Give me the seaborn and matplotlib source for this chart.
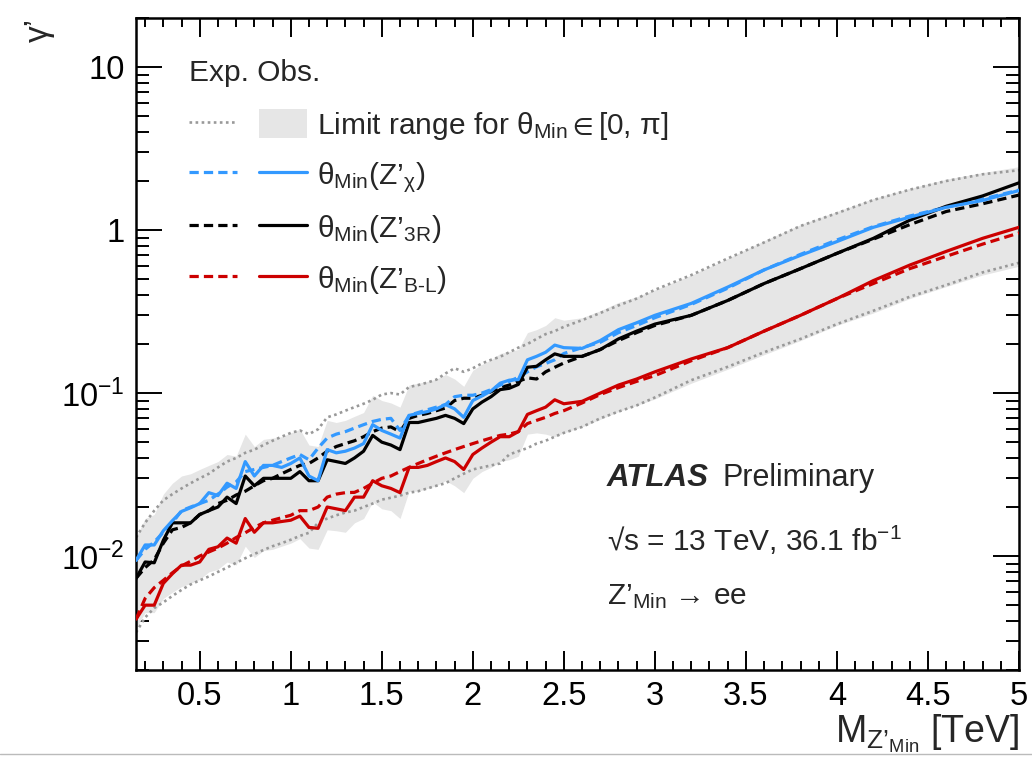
import pandas as pd
import seaborn as sns
import matplotlib.pyplot as plt
from matplotlib.lines import Line2D
from matplotlib.patches import Patch
from matplotlib.legend_handler import HandlerTuple
from matplotlib.ticker import MultipleLocator, FixedLocator, LogLocator, NullFormatter, FuncFormatter

# Z'_Min mass points [TeV]
mass = [0.15, 0.20, 0.25, 0.30, 0.35, 0.40, 0.45, 0.50, 0.55, 0.60,
        0.65, 0.70, 0.75, 0.80, 0.85, 0.90, 0.95, 1.00, 1.05, 1.10,
        1.15, 1.20, 1.25, 1.30, 1.35, 1.40, 1.45, 1.50, 1.55, 1.60,
        1.65, 1.70, 1.75, 1.80, 1.85, 1.90, 1.95, 2.00, 2.05, 2.10,
        2.15, 2.20, 2.25, 2.30, 2.35, 2.40, 2.45, 2.50, 2.60, 2.70,
        2.80, 2.90, 3.00, 3.20, 3.40, 3.60, 3.80, 4.00, 4.20, 4.40,
        4.60, 4.80, 5.00]

# observed limits on gamma'
obs_chi = [0.0094, 0.0117, 0.0117, 0.0143, 0.0165, 0.0188, 0.0198, 0.0210, 0.0245, 0.0235,
           0.0280, 0.0260, 0.0380, 0.0310, 0.0360, 0.0360, 0.0350, 0.0370, 0.0400, 0.0310,
           0.0290, 0.0450, 0.0430, 0.0440, 0.0460, 0.0490, 0.0640, 0.0590, 0.0560, 0.0530,
           0.0730, 0.0750, 0.0770, 0.0800, 0.0850, 0.0800, 0.0710, 0.0900, 0.0960, 0.1030,
           0.115, 0.120, 0.121, 0.160, 0.168, 0.178, 0.197, 0.190, 0.188, 0.210,
           0.245, 0.270, 0.300, 0.355, 0.447, 0.570, 0.700, 0.850, 1.040, 1.200,
           1.38, 1.52, 1.75]
obs_3r = [0.0073, 0.0092, 0.0091, 0.0125, 0.0160, 0.0160, 0.0160, 0.0180, 0.0190, 0.0200,
          0.0230, 0.0210, 0.0310, 0.0270, 0.0300, 0.0300, 0.0300, 0.0300, 0.0330, 0.0290,
          0.0290, 0.0390, 0.0380, 0.0370, 0.0400, 0.0440, 0.0550, 0.0500, 0.0480, 0.0450,
          0.0660, 0.0660, 0.0680, 0.0700, 0.0730, 0.0700, 0.0650, 0.0800, 0.0880, 0.0950,
          0.105, 0.107, 0.113, 0.144, 0.146, 0.160, 0.174, 0.168, 0.168, 0.185,
          0.215, 0.240, 0.265, 0.300, 0.370, 0.470, 0.580, 0.720, 0.890, 1.150,
          1.40, 1.62, 1.95]
obs_bl = [0.0041, 0.0050, 0.0050, 0.0068, 0.0078, 0.0088, 0.0088, 0.0092, 0.0110, 0.0114,
          0.0129, 0.0120, 0.0170, 0.0140, 0.0160, 0.0160, 0.0163, 0.0166, 0.0176, 0.0150,
          0.0148, 0.0200, 0.0195, 0.0190, 0.0230, 0.0230, 0.0290, 0.0270, 0.0260, 0.0245,
          0.0350, 0.0350, 0.0360, 0.0380, 0.0400, 0.0380, 0.0340, 0.0420, 0.0460, 0.0500,
          0.054, 0.054, 0.058, 0.074, 0.078, 0.082, 0.091, 0.086, 0.089, 0.100,
          0.112, 0.122, 0.135, 0.162, 0.190, 0.240, 0.300, 0.380, 0.490, 0.610,
          0.74, 0.89, 1.04]

# expected limits
exp_chi = [0.0094, 0.0110, 0.0122, 0.0140, 0.0160, 0.0190, 0.0200, 0.0210, 0.0220, 0.0240,
           0.0265, 0.0285, 0.0330, 0.0340, 0.0350, 0.0360, 0.0380, 0.0400, 0.0420, 0.0390,
           0.0460, 0.0530, 0.0560, 0.0580, 0.0610, 0.0640, 0.0670, 0.0690, 0.0700, 0.0590,
           0.0730, 0.0760, 0.0790, 0.0820, 0.0850, 0.0950, 0.0970, 0.0970, 0.1000, 0.1050,
           0.112, 0.118, 0.125, 0.135, 0.145, 0.152, 0.160, 0.175, 0.190, 0.205,
           0.235, 0.260, 0.290, 0.350, 0.440, 0.570, 0.710, 0.870, 1.050, 1.220,
           1.38, 1.55, 1.76]
exp_3r = [0.0073, 0.0085, 0.0095, 0.0120, 0.0145, 0.0150, 0.0160, 0.0180, 0.0190, 0.0210,
          0.0220, 0.0237, 0.0250, 0.0270, 0.0290, 0.0300, 0.0320, 0.0340, 0.0360, 0.0370,
          0.0400, 0.0440, 0.0470, 0.0490, 0.0510, 0.0540, 0.0580, 0.0610, 0.0620, 0.0580,
          0.0700, 0.0730, 0.0750, 0.0780, 0.0810, 0.0900, 0.0930, 0.0930, 0.0970, 0.1020,
          0.108, 0.112, 0.118, 0.124, 0.122, 0.135, 0.144, 0.153, 0.168, 0.185,
          0.210, 0.235, 0.260, 0.300, 0.370, 0.470, 0.580, 0.720, 0.880, 1.080,
          1.30, 1.45, 1.64]
exp_bl = [0.0041, 0.0055, 0.0064, 0.0071, 0.0079, 0.0087, 0.0093, 0.0100, 0.0106, 0.0112,
          0.0120, 0.0130, 0.0139, 0.0150, 0.0160, 0.0166, 0.0172, 0.0178, 0.0190, 0.0190,
          0.0200, 0.0230, 0.0240, 0.0245, 0.0246, 0.0260, 0.0280, 0.0300, 0.0310, 0.0330,
          0.0350, 0.0370, 0.0390, 0.0410, 0.0430, 0.0450, 0.0470, 0.0490, 0.0510, 0.0530,
          0.055, 0.056, 0.058, 0.065, 0.068, 0.071, 0.075, 0.078, 0.087, 0.098,
          0.108, 0.118, 0.128, 0.158, 0.190, 0.240, 0.300, 0.380, 0.470, 0.580,
          0.69, 0.82, 0.96]

# expected range over theta_Min (dotted) and observed range (grey band)
exp_hi = [0.013, 0.016, 0.019, 0.022, 0.024, 0.026, 0.028, 0.030, 0.032, 0.035,
          0.038, 0.040, 0.043, 0.045, 0.048, 0.051, 0.054, 0.057, 0.059, 0.056,
          0.060, 0.071, 0.074, 0.078, 0.082, 0.086, 0.091, 0.098, 0.100, 0.098,
          0.109, 0.112, 0.116, 0.121, 0.132, 0.142, 0.135, 0.142, 0.152, 0.160,
          0.167, 0.178, 0.190, 0.200, 0.215, 0.230, 0.240, 0.255, 0.280, 0.310,
          0.345, 0.380, 0.430, 0.530, 0.670, 0.840, 1.060, 1.270, 1.530, 1.770,
          2.00, 2.20, 2.33]
exp_lo = [0.0034, 0.0042, 0.0048, 0.0052, 0.0057, 0.0062, 0.0067, 0.0071, 0.0075, 0.0080,
          0.0085, 0.0091, 0.0097, 0.0103, 0.0109, 0.0115, 0.0120, 0.0126, 0.0133, 0.0139,
          0.0160, 0.0170, 0.0178, 0.0185, 0.0190, 0.0200, 0.0210, 0.0222, 0.0228, 0.0235,
          0.0245, 0.0250, 0.0260, 0.0270, 0.0280, 0.0300, 0.0320, 0.0340, 0.0350, 0.0360,
          0.037, 0.042, 0.044, 0.046, 0.049, 0.051, 0.054, 0.057, 0.062, 0.070,
          0.077, 0.084, 0.094, 0.120, 0.145, 0.178, 0.215, 0.265, 0.320, 0.390,
          0.46, 0.55, 0.63]
band_hi = [0.013, 0.017, 0.018, 0.024, 0.028, 0.031, 0.032, 0.034, 0.036, 0.038,
           0.042, 0.041, 0.056, 0.047, 0.052, 0.053, 0.054, 0.057, 0.060, 0.048,
           0.047, 0.068, 0.066, 0.068, 0.072, 0.076, 0.097, 0.090, 0.087, 0.082,
           0.112, 0.115, 0.118, 0.122, 0.130, 0.122, 0.110, 0.138, 0.150, 0.160,
           0.175, 0.180, 0.185, 0.235, 0.245, 0.260, 0.290, 0.280, 0.290, 0.320,
           0.360, 0.390, 0.430, 0.530, 0.670, 0.860, 1.080, 1.300, 1.560, 1.800,
           2.05, 2.25, 2.45]
band_lo = [0.0036, 0.0045, 0.0045, 0.0055, 0.0060, 0.0065, 0.0068, 0.0072, 0.0080, 0.0083,
           0.0092, 0.0088, 0.0115, 0.0098, 0.0108, 0.0110, 0.0115, 0.0120, 0.0128, 0.0112,
           0.0110, 0.0145, 0.0143, 0.0140, 0.0160, 0.0170, 0.0215, 0.0195, 0.0190, 0.0170,
           0.0250, 0.0250, 0.0260, 0.0270, 0.0290, 0.0270, 0.0245, 0.0300, 0.0330, 0.0350,
           0.038, 0.039, 0.041, 0.056, 0.057, 0.056, 0.054, 0.057, 0.062, 0.069,
           0.077, 0.084, 0.092, 0.115, 0.140, 0.172, 0.210, 0.260, 0.310, 0.380,
           0.45, 0.53, 0.60]

BLUE = '#3399ff'
RED = '#cc0000'
BAND = '#e6e6e6'
DOTS = '#999999'
DASH = (0, (2.9, 1.6))
DOTTED = (0, (1.0, 1.3))


def main():
    df = pd.DataFrame({'mass': mass, 'obs_chi': obs_chi, 'obs_3r': obs_3r, 'obs_bl': obs_bl,
                       'exp_chi': exp_chi, 'exp_3r': exp_3r, 'exp_bl': exp_bl,
                       'exp_hi': exp_hi, 'exp_lo': exp_lo, 'band_hi': band_hi, 'band_lo': band_lo})

    sns.set_theme(style='ticks')
    plt.rcParams['font.family'] = ['Liberation Sans', 'DejaVu Sans']
    plt.rcParams['mathtext.fontset'] = 'custom'
    plt.rcParams['mathtext.rm'] = 'Liberation Sans'
    plt.rcParams['mathtext.it'] = 'Liberation Sans:italic'
    plt.rcParams['mathtext.bf'] = 'Liberation Sans:bold'
    plt.rcParams['mathtext.default'] = 'regular'

    fig = plt.figure(figsize=(10.32, 7.57), dpi=100)
    ax = fig.add_axes([0.1318, 0.1149, 0.8556, 0.8613])

    ax.fill_between(df['mass'], df['band_lo'], df['band_hi'], color=BAND, lw=0, zorder=1)
    for col in ['exp_hi', 'exp_lo']:
        sns.lineplot(data=df, x='mass', y=col, ax=ax, color=DOTS, lw=1.9,
                     linestyle=DOTTED, estimator=None, zorder=2)
    for exp_col, obs_col, c in [('exp_bl', 'obs_bl', RED), ('exp_3r', 'obs_3r', 'black'),
                                ('exp_chi', 'obs_chi', BLUE)]:
        sns.lineplot(data=df, x='mass', y=exp_col, ax=ax, color=c, lw=2.3,
                     linestyle=DASH, estimator=None, zorder=3)
        sns.lineplot(data=df, x='mass', y=obs_col, ax=ax, color=c, lw=2.3,
                     estimator=None, zorder=4)

    ax.set_yscale('log')
    ax.set_xlim(0.15, 5.0)
    ax.set_ylim(0.002, 20)

    ax.xaxis.set_major_locator(MultipleLocator(0.5))
    ax.xaxis.set_minor_locator(MultipleLocator(0.1))
    ax.xaxis.set_major_formatter(FuncFormatter(lambda v, p: f'{v:g}'))
    ax.yaxis.set_major_locator(FixedLocator([0.01, 0.1, 1, 10]))
    ax.yaxis.set_major_formatter(FuncFormatter(
        lambda v, p: {0.01: r'$10^{-2}$', 0.1: r'$10^{-1}$', 1: '1', 10: '10'}.get(round(v, 3), '')))
    ax.yaxis.set_minor_locator(LogLocator(base=10, subs=[2, 3, 4, 5, 6, 7, 8, 9], numticks=20))
    ax.yaxis.set_minor_formatter(NullFormatter())

    for s in ax.spines.values():
        s.set_linewidth(1.8)
        s.set_color('black')
    ax.tick_params(which='both', direction='in', top=True, right=True, width=1.4,
                   colors='black', labelsize=23.5)
    ax.tick_params(axis='x', which='major', length=13.5, pad=8)
    ax.tick_params(axis='x', which='minor', length=6.8)
    ax.tick_params(axis='y', which='major', length=18.5, pad=8)
    ax.tick_params(axis='y', which='minor', length=9.4)

    ax.set_xlabel(r'$M_{Z’_{Min}}$ [TeV]', loc='right', fontsize=27, labelpad=0)
    ax.set_ylabel('γ’', loc='top', fontsize=24, labelpad=5)

    # legend: expected (left) and observed (right) samples per row
    handles = [
        (Line2D([], [], color=DOTS, lw=1.9, linestyle=DOTTED), Patch(facecolor=BAND, edgecolor='none')),
        (Line2D([], [], color=BLUE, lw=2.3, linestyle=DASH), Line2D([], [], color=BLUE, lw=2.3)),
        (Line2D([], [], color='black', lw=2.3, linestyle=DASH), Line2D([], [], color='black', lw=2.3)),
        (Line2D([], [], color=RED, lw=2.3, linestyle=DASH), Line2D([], [], color=RED, lw=2.3)),
    ]
    labels = [r'Limit range for $θ_{Min}\in$[0, π]',
              r'$θ_{Min}(Z’_{χ})$',
              r'$θ_{Min}(Z’_{3R})$',
              r'$θ_{Min}(Z’_{B\text{-}L})$']
    leg = ax.legend(handles, labels, handler_map={tuple: HandlerTuple(ndivide=None, pad=0.72)},
                    loc='upper left', bbox_to_anchor=(0.0605, 0.937), frameon=False,
                    fontsize=21.5, handlelength=3.93, handleheight=1.1, handletextpad=0.33,
                    labelspacing=0.6, borderpad=0, borderaxespad=0,
                    title='Exp. Obs.', title_fontsize=21.5, alignment='left')
    leg._legend_box.sep = 16

    ax.text(0.533, 0.294, 'ATLAS', transform=ax.transAxes, fontsize=22.5, fontweight='bold',
            fontstyle='italic', va='center', ha='left')
    ax.text(0.664, 0.294, 'Preliminary', transform=ax.transAxes, fontsize=22, va='center', ha='left')
    ax.text(0.533, 0.199, r'√s = 13 TeV, 36.1 fb$^{-1}$', transform=ax.transAxes, fontsize=21.5,
            va='center', ha='left')
    ax.text(0.533, 0.112, r'Z’$_{Min}$ → ee', transform=ax.transAxes, fontsize=21.5,
            va='center', ha='left')

    fig.add_artist(Line2D([0, 1], [0.004, 0.004], transform=fig.transFigure, color='#bbbbbb', lw=1))

    fig.savefig('out.png', dpi=100)


if __name__ == '__main__':
    main()
